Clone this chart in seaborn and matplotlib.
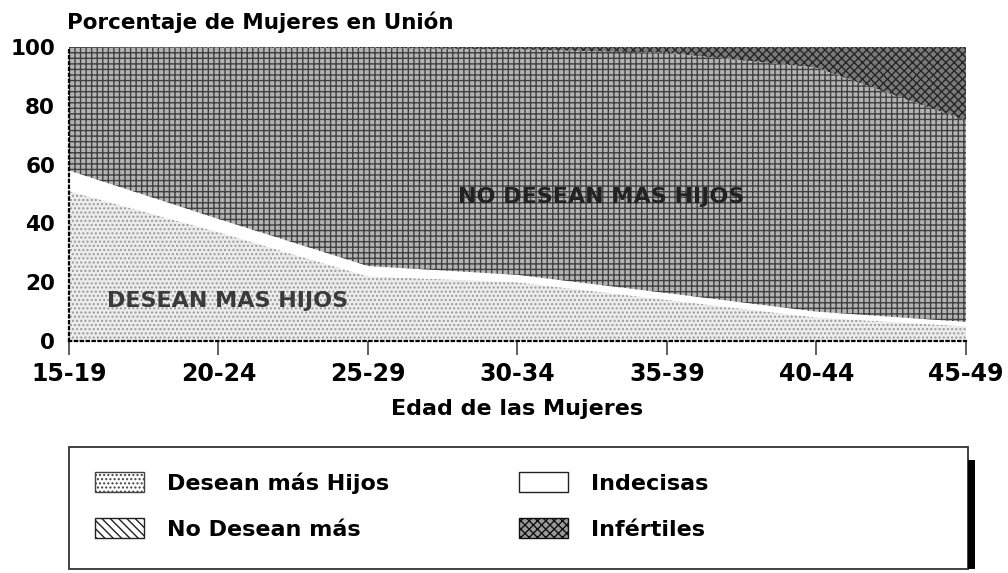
import matplotlib
matplotlib.use("Agg")
import matplotlib.pyplot as plt
import seaborn as sns
from matplotlib.patches import Patch, Rectangle

# values (percent of women in union, by age group)
ages = ["15-19", "20-24", "25-29", "30-34", "35-39", "40-44", "45-49"]
desean = [51, 37, 22, 20, 14, 8, 5]
indecisas = [7, 4.5, 3.5, 2.5, 2.3, 2, 1.5]
no_desean = [42, 58.3, 74.2, 76.7, 81.7, 83, 68.5]
infertiles = [0, 0.2, 0.3, 0.8, 2, 7, 25]
yticks = [0, 20, 40, 60, 80, 100]

sns.set_theme(style="white")
plt.rcParams["font.family"] = ["DejaVu Sans"]
plt.rcParams["font.weight"] = "bold"
plt.rcParams["text.color"] = "black"
plt.rcParams["axes.labelcolor"] = "black"
plt.rcParams["hatch.linewidth"] = 1.0

W, H = 1008, 573
fig = plt.figure(figsize=(W / 100, H / 100), dpi=100)
ax = fig.add_axes([69 / W, 1 - 341 / H, 897 / W, 294 / H])

x = list(range(len(ages)))
polys = ax.stackplot(x, desean, indecisas, no_desean, infertiles,
                     colors=["#ececec", "white", "#b4b4b4", "#7a7a7a"],
                     linewidth=0)
styles = [("....", "#9a9a9a"), ("", "white"), ("+++", "#404040"), ("xxxx", "#262626")]
for p, (h, ec) in zip(polys, styles):
    p.set_hatch(h)
    p.set_edgecolor(ec)
    p.set_linewidth(0)

ax.set_xlim(0, len(ages) - 1)
ax.set_ylim(0, 100)
ax.set_xticks(x)
ax.set_xticklabels(ages)
ax.set_yticks(yticks)
ax.tick_params(axis="x", length=10, width=1.2, color="#444444", pad=5,
               labelsize=17, direction="out", bottom=True, labelcolor="black")
ax.tick_params(axis="y", length=0, pad=10, labelsize=15.5, labelcolor="black")
for lab in ax.get_xticklabels() + ax.get_yticklabels():
    lab.set_fontweight("bold")

for s in ["top", "right"]:
    ax.spines[s].set_visible(False)
for s in ["left", "bottom"]:
    ax.spines[s].set_linestyle(":")
    ax.spines[s].set_linewidth(1.6)
    ax.spines[s].set_color("black")

ax.text(1.06, 13.6, "DESEAN MAS HIJOS", ha="center", va="center",
        fontsize=16, fontweight="bold", color="#3a3a3a")
ax.text(3.56, 49, "NO DESEAN MAS HIJOS", ha="center", va="center",
        fontsize=16, fontweight="bold", color="#222222")

fig.text(67 / W, 1 - 29 / H, "Porcentaje de Mujeres en Unión", ha="left",
         va="baseline", fontsize=15.5, fontweight="bold")
fig.text(517 / W, 1 - 415 / H, "Edad de las Mujeres", ha="center",
         va="baseline", fontsize=16, fontweight="bold")

# legend: two columns placed separately inside a framed box
h1 = [Patch(facecolor="white", edgecolor="#444444", hatch="....", label="Desean más Hijos"),
      Patch(facecolor="white", edgecolor="#222222", hatch="\\\\\\\\", label="No Desean más")]
h2 = [Patch(facecolor="white", edgecolor="#222222", label="Indecisas"),
      Patch(facecolor="#9a9a9a", edgecolor="#111111", hatch="xxxx", label="Infértiles")]
common = dict(loc="upper left", frameon=False, borderpad=0, borderaxespad=0,
              handlelength=2.2, handleheight=1.0, labelspacing=1.1,
              handletextpad=1.05, prop={"size": 16, "weight": "bold"})
fig.legend(handles=h1, bbox_to_anchor=(95 / W, 1 - 472 / H), **common)
fig.legend(handles=h2, bbox_to_anchor=(519 / W, 1 - 472 / H), **common)

fig.patches.append(Rectangle((69 / W, 1 - 569 / H), 899 / W, 122 / H,
                             transform=fig.transFigure, fill=False,
                             edgecolor="#333333", linewidth=1.3))
fig.patches.append(Rectangle((968 / W, 1 - 569 / H), 7 / W, 109 / H,
                             transform=fig.transFigure, facecolor="black",
                             edgecolor="none"))

fig.savefig("out.png", dpi=100)
